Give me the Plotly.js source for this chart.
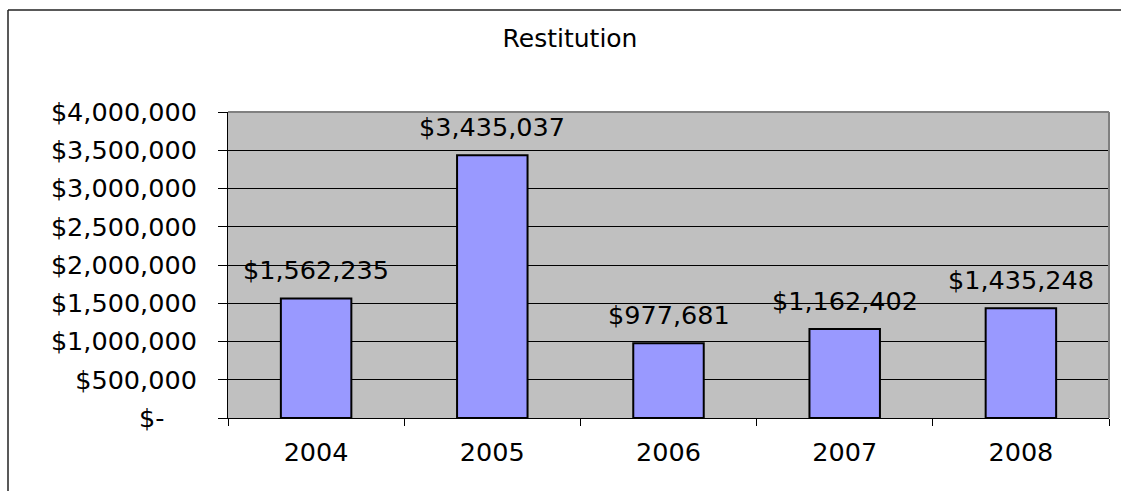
<!DOCTYPE html>
<html>
<head>
<meta charset="utf-8">
<script src="https://cdn.plot.ly/plotly-3.0.1.min.js"></script>
<style>
  html, body { margin: 0; padding: 0; background: #ffffff; }
  #chart { width: 1121px; height: 491px; }
</style>
</head>
<body>
<div id="chart"></div>
<script>
// ---- data ----
const years = ["2004", "2005", "2006", "2007", "2008"];
const restitution = [1562235, 3435037, 977681, 1162402, 1435248];
const yTickValues = [0, 500000, 1000000, 1500000, 2000000, 2500000, 3000000, 3500000, 4000000];
const yTickLabels = ["$-\u00A0\u00A0\u00A0\u00A0", "$500,000", "$1,000,000", "$1,500,000", "$2,000,000",
                     "$2,500,000", "$3,000,000", "$3,500,000", "$4,000,000"];
const chartTitle = "Restitution";

// ---- styles ----
const FONT = "DejaVu Sans, Verdana, sans-serif";
const FS = 25.5;

function money(v) { return "$" + v.toLocaleString("en-US"); }

const trace = {
  type: "bar",
  x: years,
  y: restitution,
  marker: { color: "#9999FF", line: { color: "#000000", width: 2 } },
  hoverinfo: "skip"
};

const labelAnnotations = years.map((yr, i) => ({
  x: i, y: restitution[i], xref: "x", yref: "y",
  text: money(restitution[i]),
  showarrow: false, yanchor: "middle", xanchor: "center", yshift: 28,
  font: { family: FONT, size: FS, color: "#000000" }
}));

const layout = {
  width: 1121, height: 491,
  margin: { l: 228, r: 12, t: 112, b: 73, pad: 0 },
  paper_bgcolor: "#ffffff",
  plot_bgcolor: "#C0C0C0",
  bargap: 0.6,
  showlegend: false,
  title: {
    text: chartTitle,
    xref: "container", yref: "container",
    x: 570 / 1121, xanchor: "center",
    y: 1 - 38 / 491, yanchor: "middle",
    font: { family: FONT, size: 25, color: "#000000" }
  },
  xaxis: {
    type: "category",
    categoryorder: "array", categoryarray: years,
    range: [-0.5, years.length - 0.5], autorange: false,
    showline: true, linecolor: "#000000", linewidth: 1,
    ticks: "outside", tickson: "boundaries", ticklen: 7, tickcolor: "#000000", tickwidth: 1,
    tickangle: 0,
    showgrid: false, zeroline: false,
    ticklabelstandoff: 11,
    tickfont: { family: FONT, size: FS, color: "#000000" },
    fixedrange: true
  },
  yaxis: {
    range: [0, 4000000], autorange: false,
    tickmode: "array", tickvals: yTickValues, ticktext: yTickLabels,
    showline: true, linecolor: "#000000", linewidth: 1,
    ticks: "outside", ticklen: 9, tickcolor: "#000000", tickwidth: 1,
    showgrid: true, gridcolor: "#000000", gridwidth: 1,
    zeroline: false,
    ticklabelstandoff: 16,
    tickfont: { family: FONT, size: FS, color: "#000000" },
    fixedrange: true
  },
  shapes: [
    // plot-area border (top and right, gray)
    { type: "line", xref: "paper", yref: "paper", x0: 0, x1: 1, y0: 1, y1: 1,
      line: { color: "#808080", width: 2 }, layer: "above" },
    { type: "line", xref: "paper", yref: "paper", x0: 1, x1: 1, y0: 0, y1: 1,
      line: { color: "#808080", width: 2 }, layer: "above" },
    // outer frame (top and left)
    { type: "line", xref: "paper", yref: "paper",
      x0: (8 - 228) / 881, x1: (1130 - 228) / 881, y0: (418 - 10) / 306, y1: (418 - 10) / 306,
      line: { color: "#222222", width: 1.5 }, layer: "above" },
    { type: "line", xref: "paper", yref: "paper",
      x0: (8 - 228) / 881, x1: (8 - 228) / 881, y0: (418 - 10) / 306, y1: (418 - 495) / 306,
      line: { color: "#222222", width: 1.5 }, layer: "above" }
  ],
  annotations: labelAnnotations
};

Plotly.newPlot("chart", [trace], layout, { staticPlot: true, displayModeBar: false });
</script>
</body>
</html>
